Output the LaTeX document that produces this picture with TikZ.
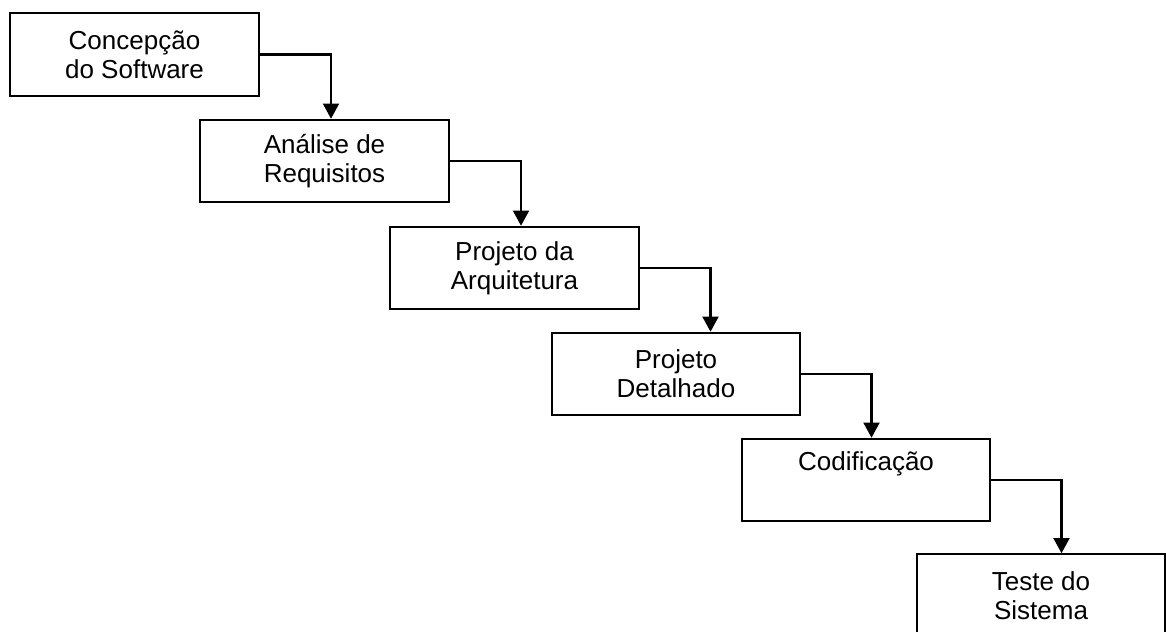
\documentclass[tikz,border=0pt]{standalone}
\usepackage{fontspec}
\setmainfont{Liberation Sans}
\usetikzlibrary{positioning,calc,arrows.meta}

\tikzset{
  etapa/.style={draw,line width=1.5pt,minimum width=6.22cm,minimum height=2.06cm,
    inner sep=0pt,align=center,font=\fontsize{18.5}{20.8}\selectfont},
  seta/.style={line width=1.5pt,-{Triangle[width=0.4cm,length=0.38cm]}}
}

\begin{document}
\begin{tikzpicture}[x=0.025cm,y=-0.025cm]
\useasboundingbox (0,0) rectangle (1166,632);

\node[etapa] (conc) at (134.5, 54.5) {Concepção\\do Software};
\node[etapa] (anal) at (324.5,161.0) {Análise de\\Requisitos};
\node[etapa] (arq)  at (514.5,268.0) {Projeto da\\Arquitetura};
\node[etapa] (det)  at (676.0,374.0) {Projeto\\Detalhado};
\node[etapa] (cod)  at (866.0,480.0) {Codificação\\\strut};
\node[etapa] (test) at (1041.0,595.5) {Teste do\\Sistema};

\draw[seta] (conc.east) -| ($(anal.north west)+(132,0)$);
\draw[seta] (anal.east) -| ($(arq.north west)+(132,0)$);
\draw[seta] (arq.east)  -| ($(det.north west)+(160,0)$);
\draw[seta] (det.east)  -| ($(cod.north west)+(131,0)$);
\draw[seta] (cod.east)  -| ($(test.north west)+(146,0)$);
\end{tikzpicture}
\end{document}
